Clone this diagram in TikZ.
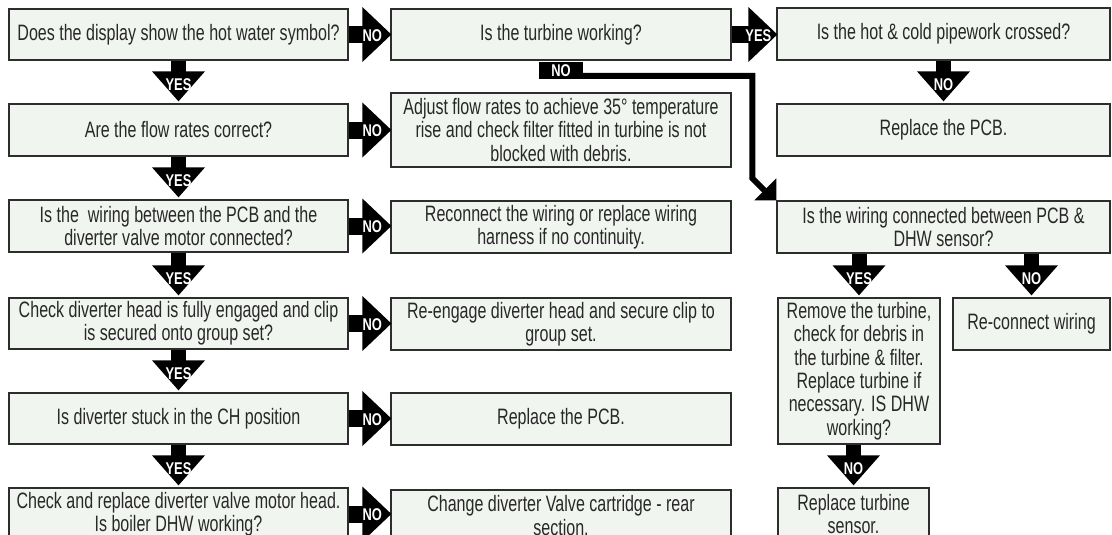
\documentclass[tikz,border=0pt]{standalone}
\usepackage{fontspec}
\setmainfont{Liberation Sans}[FakeStretch=0.72]
\newfontfamily\lblfont{Liberation Sans}[FakeStretch=0.76]
\usetikzlibrary{calc}
\definecolor{boxfill}{RGB}{241,245,240}
\definecolor{boxline}{RGB}{45,45,45}
\definecolor{textgray}{RGB}{40,40,40}
\tikzset{
  box/.style={draw=boxline, line width=1.3pt, fill=boxfill, inner sep=0pt, align=center,
    font=\fontsize{22.3}{23.3}\selectfont, text=textgray},
  arrowfill/.style={fill=black},
  arrlabel/.style={text=white, inner sep=0pt, font=\lblfont\bfseries\fontsize{17}{17}\selectfont},
  nolabel/.style={fill=black, text=white, inner sep=0pt, minimum width=44pt, minimum height=17pt,
    font=\lblfont\bfseries\fontsize{17}{17}\selectfont},
  conn/.style={draw=black, line width=6pt, line join=miter}
}
\newcommand{\bx}[6]{\node[box, minimum width={(#4-#2)*1pt}, minimum height={(#5-#3)*1pt}] (#1) at ({(#2+#4)/2},{(#3+#5)/2}) {#6};}
\newcommand{\downarr}[3]{%
  \path (#2.north |- #1.south) coordinate (das) (#2.north) coordinate (dae);
  \fill[arrowfill] ($(das)+(-7.5,0)$) rectangle ($(dae)+(7.5,-31)$);
  \fill[arrowfill] ($(dae)+(-26.5,-32)$) -- ($(dae)+(26.5,-32)$) -- ($(dae)+(0,-2)$) -- cycle;
  \node[arrlabel] at ($(dae)+(0,-19)$) {#3};
}
\newcommand{\rightarr}[3]{%
  \path (#1.east) coordinate (ras) (#2.west |- #1.east) coordinate (rae);
  \fill[arrowfill] ($(ras)+(0,-8.5)$) rectangle ($(rae)+(-27,8.5)$);
  \fill[arrowfill] ($(rae)+(-28,-27.5)$) -- ($(rae)+(-28,27.5)$) -- ($(rae)+(1,0)$) -- cycle;
  \node[arrlabel] at ($(rae)+(-18,1)$) {#3};
}
\begin{document}
\begin{tikzpicture}[x=1pt,y=-1pt]
\useasboundingbox (0,0) rectangle (1112,535);
\fill[white] (0,0) rectangle (1112,535);
\clip (0,0) rectangle (1112,535);
% left column
\bx{L1}{9}{9}{348}{60}{Does the display show the hot water symbol?}
\bx{L2}{9}{104}{348}{156}{Are the flow rates correct?}
\bx{L3}{9}{200}{348}{252}{Is the~ wiring between the PCB and the\\diverter valve motor connected?}
\bx{L4}{9}{298}{348}{349}{Check diverter head is fully engaged and clip\\is secured onto group set?}
\bx{L5}{9}{393}{348}{444}{Is diverter stuck in the CH position}
\bx{L6}{9}{488}{348}{540}{Check and replace diverter valve motor head.\\Is boiler DHW working?}
% middle column
\bx{M1}{391}{9}{731}{60}{Is the turbine working?}
\bx{M2}{391}{93}{731}{167}{Adjust flow rates to achieve 35° temperature\\rise and check filter fitted in turbine is not\\blocked with debris.}
\bx{M3}{391}{201}{731}{253}{Reconnect the wiring or replace wiring\\harness if no continuity.}
\bx{M4}{391}{298}{731}{350}{Re-engage diverter head and secure clip to\\group set.}
\bx{M5}{391}{393}{731}{445}{Replace the PCB.}
\bx{M6}{391}{490}{731}{541}{Change diverter Valve cartridge - rear\\section.}
% right column
\bx{R1}{777}{8}{1110}{60}{Is the hot \& cold pipework crossed?}
\bx{R2}{777}{104}{1110}{156}{Replace the PCB.}
\bx{R3}{777}{201}{1110}{253}{Is the wiring connected between PCB \&\\DHW sensor?}
\bx{R4}{778}{298}{940}{444}{Remove the turbine,\\check for debris in\\the turbine \& filter.\\Replace turbine if\\necessary. IS DHW\\working?}
\bx{R5}{953}{298}{1110}{350}{Re-connect wiring}
\bx{R6}{778}{488}{929}{540}{Replace turbine\\sensor.}
% down arrows
\downarr{L1}{L2}{YES}
\downarr{L2}{L3}{YES}
\downarr{L3}{L4}{YES}
\downarr{L4}{L5}{YES}
\downarr{L5}{L6}{YES}
\downarr{R1}{R2}{NO}
\downarr{R3}{R4}{YES}
\downarr{R3}{R5}{NO}
\downarr{R4}{R6}{NO}
% right arrows
\rightarr{L1}{M1}{NO}
\rightarr{M1}{R1}{YES}
\rightarr{L2}{M2}{NO}
\rightarr{L3}{M3}{NO}
\rightarr{L4}{M4}{NO}
\rightarr{L5}{M5}{NO}
\rightarr{L6}{M6}{NO}
% turbine NO connector
\node[nolabel] (tno) at (561,70.5) {NO};
\coordinate (rc) at (R3.north west);
\draw[conn] ($(tno.east)+(-1,5.5)$) -| ($(rc)+(-24,-22)$) -- ($(rc)+(-12,-10)$);
\fill[arrowfill] ($(rc)+(-22,0)$) -- ($(rc)+(0,-22)$) -- (rc) -- cycle;
\end{tikzpicture}
\end{document}
